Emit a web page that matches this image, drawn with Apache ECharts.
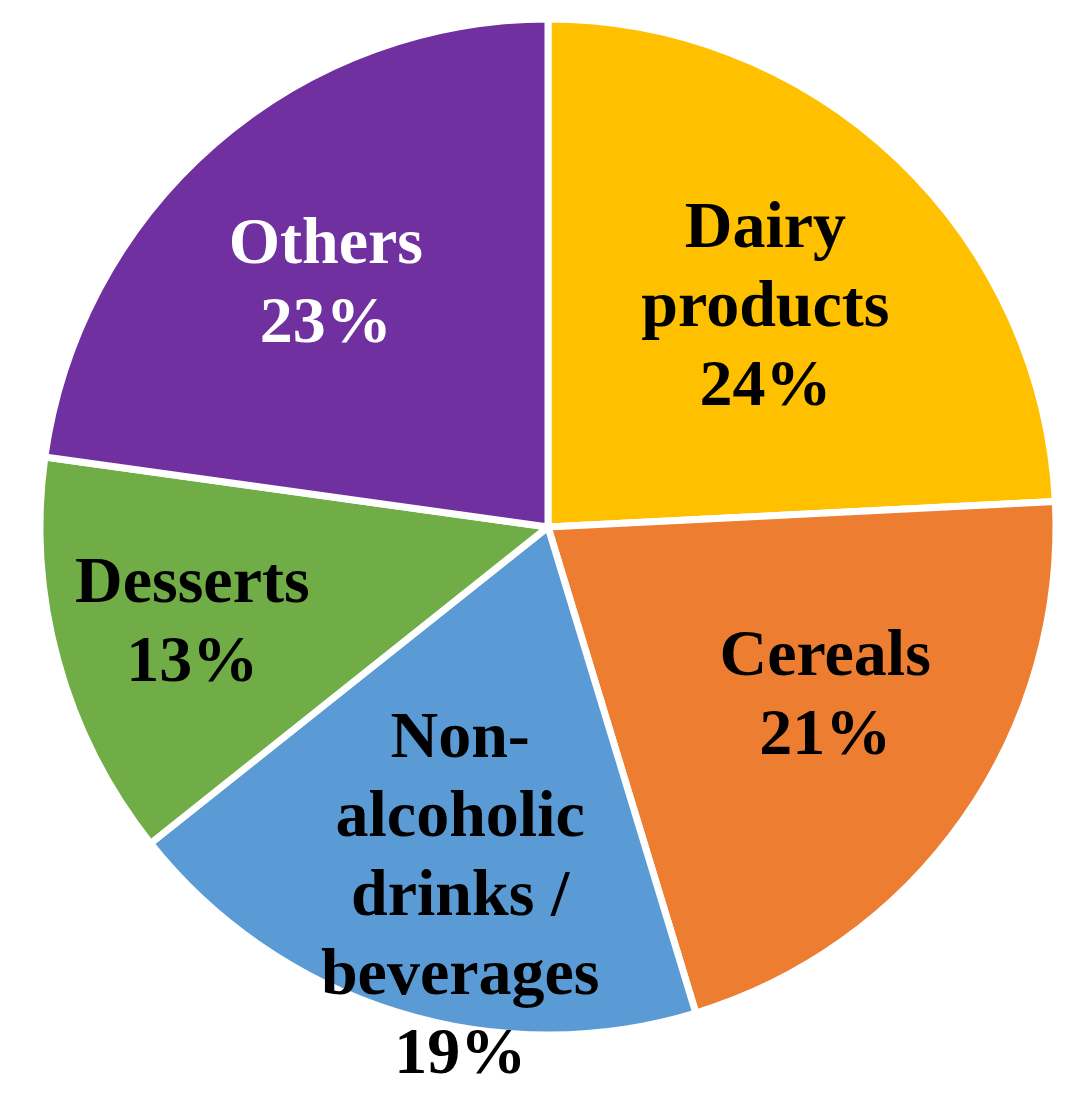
<!DOCTYPE html>
<html>
<head>
<meta charset="utf-8">
<script src="https://cdn.jsdelivr.net/npm/echarts@6/dist/echarts.min.js"></script>
<style>
html,body{margin:0;padding:0;background:#fff;}
#chart{width:1083px;height:1105px;}
</style>
</head>
<body>
<div id="chart"></div>
<script>
// Data (clockwise from top)
const categories = ['Dairy products', 'Cereals', 'Non-alcoholic drinks / beverages', 'Desserts', 'Others'];
const labelText = ['Dairy\nproducts', 'Cereals', 'Non-\nalcoholic\ndrinks /\nbeverages', 'Desserts', 'Others'];
const values = [24.2, 21.1, 19.0, 12.9, 22.8];

// Styles
const colors = ['#FFC000', '#ED7D31', '#5B9BD5', '#70AD47', '#7030A0'];
const textColors = ['#000', '#000', '#000', '#000', '#fff'];
const labelRadiusFrac = [0.60, 0.635, 0.745, 0.72, 0.64];
const angleTweak = [-1.4, 3.5, 4.0, 0, 1.6]; // degrees

const R = 508, CX = 548, CY = 527;
const total = values.reduce((a, b) => a + b, 0);

let cum = 0;
const data = categories.map((name, i) => {
  const start = 90 - cum / total * 360;
  cum += values[i];
  const end = 90 - cum / total * 360;
  const mid = (start + end) / 2;
  const midRad = mid * Math.PI / 180;
  const tgtRad = (mid + angleTweak[i]) * Math.PI / 180;
  const defR = R / 2;
  const tR = labelRadiusFrac[i] * R;
  const ox = tR * Math.cos(tgtRad) - defR * Math.cos(midRad);
  const oy = -(tR * Math.sin(tgtRad) - defR * Math.sin(midRad));
  return {
    name: name,
    value: values[i],
    itemStyle: { color: colors[i] },
    label: {
      color: textColors[i],
      offset: [ox, oy],
      formatter: labelText[i] + '\n' + Math.round(values[i] / total * 100) + '%'
    }
  };
});

const chart = echarts.init(document.getElementById('chart'), null, { renderer: 'canvas' });
chart.setOption({
  animation: false,
  backgroundColor: '#fff',
  series: [{
    type: 'pie',
    center: [CX, CY],
    radius: [0, R],
    startAngle: 90,
    clockwise: true,
    avoidLabelOverlap: false,
    itemStyle: { borderColor: '#fff', borderWidth: 7 },
    label: {
      show: true,
      position: 'inside',
      fontFamily: '"Liberation Serif", "Times New Roman", serif',
      fontWeight: 'bold',
      fontSize: 66,
      lineHeight: 79,
      align: 'center'
    },
    labelLine: { show: false },
    emphasis: { disabled: true },
    data: data
  }]
});
</script>
</body>
</html>
